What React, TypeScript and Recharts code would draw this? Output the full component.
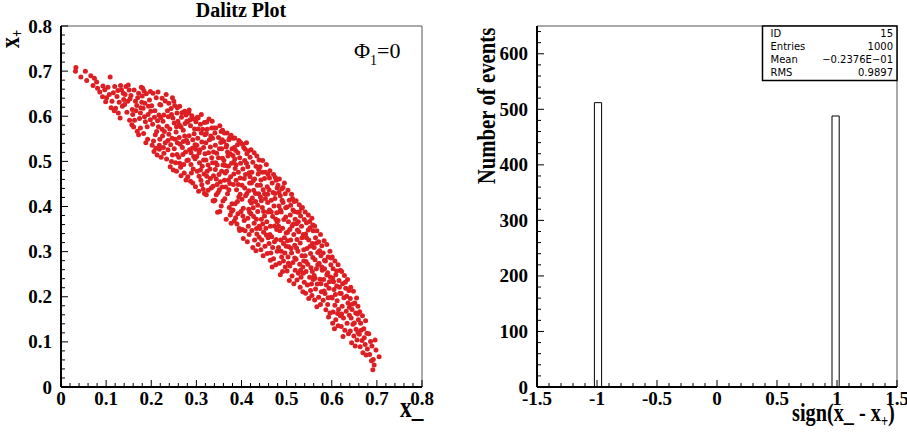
import React from "react";
import {
  ScatterChart,
  Scatter,
  ComposedChart,
  Bar,
  XAxis,
  YAxis,
  ReferenceLine,
} from "recharts";

// x_ , x+ pairs
const dalitz: [number, number][] = [
  [.033,.708],[.032,.700],
  [.044,.687],[.054,.700],[.057,.679],
  [.066,.690],[.074,.684],[.071,.668],[.079,.676],
  [.081,.662],[.086,.654],[.093,.667],[.097,.659],[.092,.643],[.099,.632],
  [.104,.664],[.109,.687],[.101,.641],[.113,.633],[.116,.652],[.107,.648],[.118,.612],[.111,.619],[.119,.666],
  [.127,.607],[.121,.618],[.134,.659],[.138,.651],[.131,.596],[.136,.622],[.124,.644],[.129,.631],[.132,.668],[.126,.657],[.139,.637],
  [.144,.666],[.149,.669],[.146,.609],[.141,.626],[.152,.591],[.155,.646],[.148,.633],[.158,.615],[.153,.639],[.151,.658],[.142,.648],[.157,.581],[.159,.604],
  [.162,.658],[.172,.651],[.165,.633],[.168,.624],[.176,.607],[.172,.559],[.176,.574],[.163,.591],[.170,.641],[.178,.664],[.166,.612],[.174,.595],[.161,.576],[.179,.631],[.169,.567],[.177,.619],
  [.181,.662],[.184,.656],[.198,.655],[.180,.645],[.182,.618],[.194,.622],[.185,.599],[.193,.604],[.198,.592],[.187,.588],[.183,.562],[.188,.541],[.191,.577],[.196,.636],[.186,.629],[.192,.549],[.199,.611],[.189,.650],
  [.202,.536],[.206,.522],[.213,.514],[.217,.603],[.216,.577],[.209,.559],[.205,.545],[.218,.536],[.204,.651],[.211,.641],[.219,.626],[.208,.612],[.214,.590],[.203,.582],[.212,.566],[.219,.549],[.201,.623],[.215,.654],[.207,.598],[.218,.527],[.210,.529],
  [.224,.640],[.231,.634],[.221,.625],[.239,.629],[.228,.603],[.238,.599],[.224,.571],[.235,.578],[.225,.556],[.239,.560],[.231,.541],[.228,.518],[.237,.526],[.222,.509],[.233,.648],[.236,.612],[.226,.589],[.221,.597],[.237,.546],[.229,.566],[.234,.505],[.227,.531],
  [.250,.633],[.257,.607],[.251,.585],[.256,.577],[.246,.551],[.258,.541],[.247,.514],[.245,.500],[.242,.488],[.257,.515],[.244,.617],[.252,.624],[.248,.596],[.255,.565],[.241,.572],[.259,.589],[.243,.537],[.251,.528],[.254,.497],[.249,.481],[.258,.619],[.245,.604],[.253,.549],[.247,.641],[.256,.478],
  [.267,.598],[.262,.553],[.274,.611],[.279,.502],[.265,.487],[.271,.569],[.277,.459],[.263,.622],[.269,.531],[.275,.584],[.261,.509],[.278,.547],[.266,.576],[.272,.493],[.264,.538],[.276,.521],[.268,.608],[.273,.474],[.279,.589],[.262,.581],[.270,.515],[.274,.556],[.266,.468],[.277,.603],[.263,.496],[.271,.544],
  [.283,.607],[.296,.572],[.288,.493],[.281,.541],[.292,.452],[.299,.588],[.285,.526],[.294,.511],[.287,.579],[.281,.466],[.297,.537],[.290,.601],[.284,.557],[.293,.483],[.298,.444],[.286,.592],[.291,.529],[.282,.503],[.295,.561],[.289,.474],[.297,.506],[.284,.614],[.292,.548],[.287,.456],[.299,.527],[.281,.588],[.294,.594],[.288,.519],
  [.304,.596],[.312,.543],[.317,.472],[.301,.511],[.309,.582],[.315,.438],[.306,.467],[.319,.559],[.302,.478],[.311,.604],[.308,.526],[.316,.503],[.303,.551],[.313,.489],[.318,.586],[.305,.434],[.310,.458],[.314,.571],[.301,.536],[.307,.497],[.319,.517],[.312,.448],[.304,.572],[.316,.531],[.309,.481],[.302,.598],[.318,.429],[.311,.563],[.306,.519],
  [.323,.587],[.331,.462],[.338,.521],[.326,.436],[.334,.574],[.321,.503],[.337,.413],[.329,.548],[.324,.478],[.336,.497],[.322,.562],[.333,.441],[.339,.574],[.327,.519],[.335,.589],[.325,.454],[.331,.532],[.338,.468],[.322,.426],[.328,.594],[.334,.508],[.321,.541],[.337,.445],[.330,.483],[.324,.571],[.336,.551],[.326,.492],[.339,.412],[.332,.556],[.323,.467],
  [.343,.574],[.351,.528],[.357,.443],[.346,.492],[.355,.566],[.341,.414],[.349,.553],[.358,.507],[.344,.461],[.352,.389],[.356,.478],[.342,.536],[.348,.431],[.354,.542],[.359,.412],[.345,.518],[.353,.455],[.341,.563],[.347,.387],[.356,.528],[.350,.471],[.343,.497],[.358,.569],[.346,.449],[.352,.579],[.355,.401],[.342,.482],[.349,.508],[.357,.548],[.344,.426],[.351,.437],[.359,.492],
  [.362,.563],[.369,.428],[.375,.517],[.364,.474],[.372,.548],[.378,.389],[.361,.502],[.367,.536],[.374,.451],[.366,.372],[.371,.489],[.377,.558],[.363,.417],[.368,.563],[.376,.466],[.379,.528],[.365,.443],[.373,.398],[.361,.544],[.370,.512],[.377,.363],[.364,.491],[.372,.437],[.367,.478],[.374,.553],[.379,.406],[.362,.458],[.369,.521],[.375,.381],[.366,.532],[.371,.459],[.378,.496],
  [.381,.551],[.388,.492],[.394,.421],[.384,.368],[.391,.537],[.397,.463],[.382,.449],[.387,.524],[.395,.351],[.383,.498],[.392,.384],[.398,.542],[.386,.406],[.393,.476],[.381,.513],[.389,.437],[.396,.508],[.385,.552],[.390,.361],[.397,.427],[.383,.472],[.392,.519],[.399,.389],[.386,.484],[.394,.546],[.381,.392],[.388,.458],[.396,.347],[.384,.531],[.391,.411],[.398,.496],[.387,.375],[.393,.449],[.385,.505],
  [.402,.538],[.409,.471],[.416,.394],[.404,.329],[.412,.517],[.418,.452],[.401,.416],[.407,.502],[.415,.356],[.403,.483],[.411,.541],[.419,.412],[.406,.369],[.414,.488],[.401,.447],[.408,.527],[.417,.338],[.404,.396],[.412,.429],[.419,.509],[.406,.462],[.414,.374],[.402,.349],[.409,.424],[.417,.475],[.405,.531],[.413,.322],[.418,.387],[.407,.441],[.415,.523],[.411,.496],[.403,.379],[.416,.435],[.408,.346],[.419,.466],
  [.421,.526],[.428,.519],[.434,.512],[.439,.503],[.425,.498],[.432,.489],[.423,.476],[.437,.472],[.429,.461],[.422,.452],[.435,.447],[.427,.436],[.438,.428],[.424,.419],[.431,.411],[.426,.397],[.436,.389],[.421,.384],[.433,.372],[.428,.363],[.439,.356],[.423,.347],[.434,.339],[.429,.326],[.437,.316],[.425,.309],[.432,.302],[.438,.482],[.426,.457],[.431,.429],[.422,.408],[.436,.403],[.427,.378],[.433,.351],[.439,.332],
  [.447,.502],[.441,.488],[.455,.493],[.459,.471],[.443,.459],[.451,.462],[.448,.437],[.457,.444],[.442,.421],[.453,.418],[.446,.398],[.458,.409],[.451,.379],[.444,.372],[.456,.366],[.441,.351],[.449,.343],[.459,.331],[.445,.326],[.452,.312],[.457,.296],[.448,.291],[.443,.304],[.454,.352],[.446,.476],[.458,.427],[.449,.389],[.442,.447],[.455,.337],[.451,.428],[.447,.361],[.459,.388],[.444,.413],[.453,.476],
  [.463,.479],[.471,.471],[.468,.452],[.477,.458],[.461,.437],[.474,.429],[.466,.414],[.479,.441],[.462,.392],[.472,.401],[.469,.378],[.476,.372],[.464,.356],[.478,.349],[.467,.333],[.473,.322],[.461,.318],[.479,.301],[.465,.297],[.471,.284],[.476,.271],[.468,.266],[.474,.418],[.462,.463],[.478,.386],[.466,.388],[.473,.357],[.469,.309],[.477,.327],[.463,.338],[.475,.464],[.470,.431],[.464,.281],[.479,.366],
  [.495,.452],[.484,.461],[.481,.447],[.489,.439],[.497,.428],[.486,.424],[.492,.409],[.483,.401],[.498,.397],[.488,.388],[.494,.371],[.481,.369],[.491,.352],[.485,.346],[.499,.341],[.487,.326],[.493,.318],[.482,.309],[.496,.297],[.489,.288],[.484,.274],[.497,.266],[.491,.256],[.486,.249],[.498,.377],[.483,.431],[.490,.414],[.495,.331],[.482,.357],[.488,.301],[.493,.279],[.499,.312],[.486,.393],[.492,.442],
  [.503,.436],[.511,.427],[.506,.414],[.517,.411],[.501,.399],[.514,.392],[.508,.381],[.519,.372],[.504,.366],[.512,.357],[.502,.343],[.516,.338],[.509,.326],[.505,.311],[.518,.314],[.511,.297],[.503,.288],[.514,.276],[.507,.268],[.519,.259],[.501,.257],[.512,.246],[.506,.236],[.516,.229],[.509,.403],[.515,.361],[.502,.324],[.518,.286],[.507,.349],[.513,.418],[.504,.274],[.510,.307],[.517,.389],
  [.521,.413],[.528,.404],[.535,.398],[.524,.387],[.531,.379],[.539,.371],[.522,.362],[.533,.356],[.527,.344],[.537,.338],[.523,.327],[.530,.319],[.538,.304],[.525,.301],[.534,.291],[.521,.283],[.529,.272],[.536,.266],[.526,.252],[.532,.243],[.539,.232],[.523,.237],[.530,.221],[.536,.211],[.528,.388],[.534,.331],[.522,.308],[.538,.279],[.526,.366],[.531,.259],[.524,.348],[.537,.252],[.533,.396],
  [.541,.388],[.548,.381],[.556,.374],[.544,.364],[.552,.353],[.559,.346],[.542,.339],[.549,.326],[.557,.318],[.545,.307],[.553,.296],[.541,.291],[.558,.287],[.547,.272],[.554,.264],[.543,.256],[.551,.243],[.559,.238],[.546,.226],[.553,.214],[.542,.208],[.549,.196],[.556,.203],[.544,.331],[.551,.367],[.557,.256],[.548,.348],[.555,.228],[.543,.278],[.552,.312],[.558,.359],
  [.562,.357],[.567,.346],[.575,.338],[.564,.331],[.571,.322],[.578,.313],[.561,.309],[.569,.298],[.576,.291],[.563,.282],[.572,.274],[.566,.262],[.579,.259],[.561,.247],[.574,.239],[.568,.228],[.564,.217],[.577,.211],[.571,.199],[.562,.193],[.575,.183],[.567,.178],[.573,.302],[.566,.319],[.578,.266],[.563,.241],[.569,.271],[.576,.229],
  [.583,.324],[.589,.316],[.596,.301],[.581,.297],[.592,.288],[.586,.279],[.598,.271],[.584,.262],[.591,.253],[.597,.244],[.582,.238],[.588,.226],[.594,.219],[.585,.207],[.599,.199],[.581,.192],[.591,.183],[.587,.171],[.596,.164],[.593,.155],[.584,.281],[.595,.233],[.589,.248],[.583,.213],[.598,.286],[.592,.198],
  [.601,.288],[.607,.279],[.614,.271],[.603,.262],[.619,.259],[.609,.249],[.602,.241],[.616,.236],[.611,.224],[.605,.216],[.618,.208],[.601,.197],[.612,.191],[.607,.181],[.615,.172],[.603,.166],[.619,.158],[.609,.149],[.602,.141],[.614,.136],[.606,.129],[.611,.257],[.617,.221],[.604,.233],[.608,.205],[.613,.163],
  [.622,.256],[.628,.247],[.635,.238],[.624,.229],[.631,.219],[.638,.214],[.621,.207],[.627,.198],[.636,.186],[.623,.179],[.632,.168],[.639,.159],[.626,.153],[.634,.141],[.621,.134],[.629,.126],[.637,.118],[.625,.112],[.633,.201],[.639,.177],[.622,.162],[.630,.232],
  [.642,.221],[.648,.212],[.655,.197],[.641,.196],[.651,.186],[.658,.179],[.645,.172],[.653,.164],[.643,.153],[.659,.149],[.647,.139],[.654,.128],[.641,.124],[.649,.113],[.656,.104],[.644,.098],[.652,.091],[.658,.121],[.646,.184],[.650,.142],[.657,.162],
  [.662,.167],[.668,.158],[.675,.147],[.664,.141],[.671,.129],[.678,.119],[.661,.117],[.667,.103],[.674,.094],[.663,.089],[.679,.084],[.669,.076],[.672,.109],[.665,.126],[.676,.071],
  [.682,.118],[.689,.091],[.696,.104],[.684,.072],[.692,.061],[.698,.082],[.686,.101],[.694,.049],[.688,.058],[.691,.038],
  [.705,.067],
];

// histogram of sign(x_ - x+)
const binCenters = [-0.99, 0.99];
const binCounts = [512, 488];

const dalitzTicks = [0, 0.1, 0.2, 0.3, 0.4, 0.5, 0.6, 0.7, 0.8];
const histXTicks = [-1.5, -1, -0.5, 0, 0.5, 1, 1.5];
const histYTicks = [0, 100, 200, 300, 400, 500, 600];

const statLabels = ["ID", "Entries", "Mean", "RMS"];
const statValues = ["15", "1000", "\u22120.2376E\u221201", "0.9897"];

const SERIF = '"Liberation Serif", "Times New Roman", serif';
const SANS = '"DejaVu Sans", "Liberation Sans", sans-serif';

function withMinors(major: number[], n: number, max: number) {
  const step = (major[1] - major[0]) / n;
  const out: number[] = [];
  for (let i = 0; major[0] + i * step <= max + 1e-9; i++) {
    out.push(+(major[0] + i * step).toFixed(4));
  }
  return out;
}

const isMajor = (v: number, majors: number[]) =>
  majors.some((m) => Math.abs(m - v) < 1e-6);

function BottomTick(props: any) {
  const { x, y, payload, majors, fmt } = props;
  const major = isMajor(payload.value, majors);
  return (
    <g>
      <line x1={x} y1={y} x2={x} y2={y - (major ? 7 : 4)} stroke="#000" />
      {major && (
        <text
          x={x}
          y={y + 18}
          textAnchor="middle"
          fontFamily={SERIF}
          fontWeight="bold"
          fontSize={19}
          fill="#000"
        >
          {fmt(payload.value)}
        </text>
      )}
    </g>
  );
}

function LeftTick(props: any) {
  const { x, y, payload, majors, fmt } = props;
  const major = isMajor(payload.value, majors);
  return (
    <g>
      <line x1={x} y1={y} x2={x + (major ? 7 : 4)} y2={y} stroke="#000" />
      {major && (
        <text
          x={x - 9}
          y={y + 6.5}
          textAnchor="end"
          fontFamily={SERIF}
          fontWeight="bold"
          fontSize={19}
          fill="#000"
        >
          {fmt(payload.value)}
        </text>
      )}
    </g>
  );
}

const RedDot = (p: any) => (
  <circle cx={p.cx} cy={p.cy} r={2.5} fill="#dd1e22" />
);

export default function App() {
  const points = dalitz.map(([a, b]) => ({ xm: a, xp: b }));
  const hist = binCenters.map((c, i) => ({ x: c, n: binCounts[i] }));

  const fmtDalitz = (v: number) => (v === 0 ? "0" : v.toFixed(1));
  const fmtPlain = (v: number) => String(v);

  return (
    <div
      style={{
        position: "fixed",
        left: 0,
        top: 0,
        width: 907,
        height: 434,
        background: "#fff",
      }}
    >
      <div style={{ position: "absolute", left: 0, top: 0 }}>
        <ScatterChart
          width={440}
          height={434}
          margin={{ top: 26, right: 18, bottom: 0, left: 0 }}
        >
          <XAxis
            type="number"
            dataKey="xm"
            domain={[0, 0.8]}
            ticks={withMinors(dalitzTicks, 5, 0.8)}
            interval={0}
            height={47}
            tickSize={0}
            tickMargin={0}
            tickLine={false}
            axisLine={{ stroke: "#000", strokeWidth: 2 }}
            tick={(p: any) => (
              <BottomTick {...p} majors={dalitzTicks} fmt={fmtDalitz} />
            )}
            allowDataOverflow
          />
          <YAxis
            type="number"
            dataKey="xp"
            domain={[0, 0.8]}
            ticks={withMinors(dalitzTicks, 5, 0.8)}
            interval={0}
            width={61}
            tickSize={0}
            tickMargin={0}
            tickLine={false}
            axisLine={{ stroke: "#000", strokeWidth: 2 }}
            tick={(p: any) => (
              <LeftTick {...p} majors={dalitzTicks} fmt={fmtDalitz} />
            )}
            allowDataOverflow
          />
          <ReferenceLine y={0.8} stroke="#555" strokeWidth={1} />
          <ReferenceLine x={0.8} stroke="#555" strokeWidth={1} />
          <Scatter data={points} shape={RedDot} isAnimationActive={false} />
        </ScatterChart>
      </div>

      <div style={{ position: "absolute", left: 460, top: 0 }}>
        <ComposedChart
          width={447}
          height={434}
          data={hist}
          margin={{ top: 26, right: 10, bottom: 0, left: 0 }}
        >
          <XAxis
            type="number"
            dataKey="x"
            domain={[-1.5, 1.5]}
            ticks={withMinors(histXTicks, 5, 1.5)}
            interval={0}
            height={47}
            tickSize={0}
            tickMargin={0}
            tickLine={false}
            axisLine={{ stroke: "#000", strokeWidth: 2 }}
            tick={(p: any) => (
              <BottomTick {...p} majors={histXTicks} fmt={fmtPlain} />
            )}
            allowDataOverflow
          />
          <YAxis
            type="number"
            domain={[0, 650]}
            ticks={withMinors(histYTicks, 5, 650)}
            interval={0}
            width={77}
            tickSize={0}
            tickMargin={0}
            tickLine={false}
            axisLine={{ stroke: "#000", strokeWidth: 2 }}
            tick={(p: any) => (
              <LeftTick {...p} majors={histYTicks} fmt={fmtPlain} />
            )}
            allowDataOverflow
          />
          <ReferenceLine y={650} stroke="#555" strokeWidth={1} />
          <ReferenceLine x={1.5} stroke="#555" strokeWidth={1} />
          <Bar
            dataKey="n"
            barSize={7.2}
            fill="#fff"
            stroke="#000"
            strokeWidth={1}
            isAnimationActive={false}
          />
        </ComposedChart>
      </div>

      <svg
        width={907}
        height={434}
        style={{ position: "absolute", left: 0, top: 0, pointerEvents: "none" }}
      >
        <text
          x={241}
          y={17}
          textAnchor="middle"
          fontFamily={SERIF}
          fontWeight="bold"
          fontSize={20}
        >
          Dalitz Plot
        </text>
        <text x={354} y={58} fontFamily={SERIF} fontSize={22}>
          Φ<tspan dy={7} fontSize={14}>1</tspan>
          <tspan dy={-7}>=0</tspan>
        </text>
        <g transform="translate(400,417) scale(0.78,1)">
          <text fontFamily={SERIF} fontWeight="bold" fontSize={30}>
            x_
          </text>
        </g>
        <g transform="translate(19,48) rotate(-90) scale(0.78,1)">
          <text fontFamily={SERIF} fontWeight="bold" fontSize={28}>
            x<tspan dy={4} fontSize={16}>+</tspan>
          </text>
        </g>
        <g transform="translate(495,106) rotate(-90) scale(0.8,1)">
          <text
            textAnchor="middle"
            fontFamily={SERIF}
            fontWeight="bold"
            fontSize={26}
          >
            Number of events
          </text>
        </g>
        <g transform="translate(792,421) scale(0.78,1)">
          <text fontFamily={SERIF} fontWeight="bold" fontSize={26}>
            sign(x_ - x<tspan dy={6} fontSize={16}>+</tspan>
            <tspan dy={-6}>)</tspan>
          </text>
        </g>

        <rect
          x={762.5}
          y={26}
          width={134.5}
          height={54.5}
          fill="#fff"
          stroke="#000"
          strokeWidth={1.5}
        />
        {statLabels.map((s, i) => (
          <g key={s}>
            <text
              x={770.5}
              y={36.5 + i * 13.2}
              fontFamily={SANS}
              fontSize={10}
              fill="#000"
            >
              {s}
            </text>
            <text
              x={893}
              y={36.5 + i * 13.2}
              textAnchor="end"
              fontFamily={SANS}
              fontSize={10}
              fill="#000"
            >
              {statValues[i]}
            </text>
          </g>
        ))}
      </svg>
    </div>
  );
}
